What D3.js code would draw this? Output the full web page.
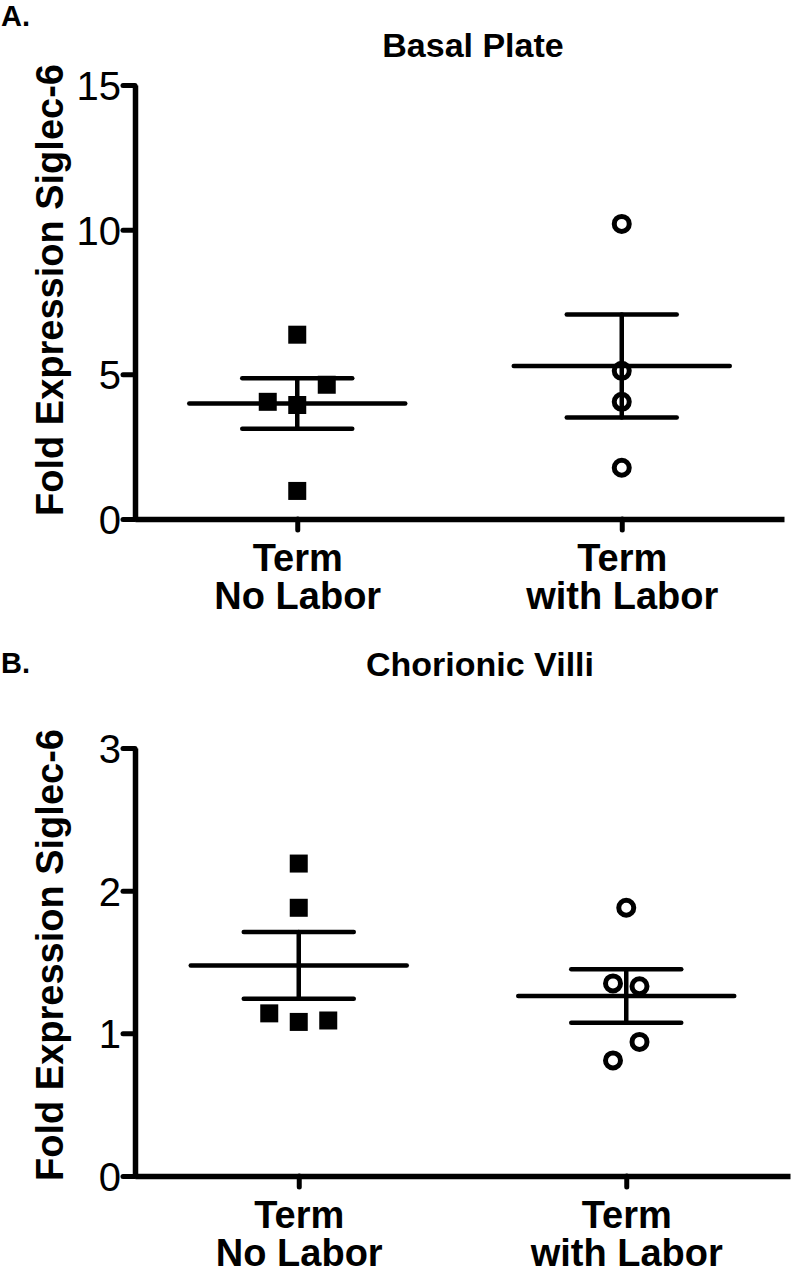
<!DOCTYPE html>
<html>
<head>
<meta charset="utf-8">
<script src="https://cdn.jsdelivr.net/npm/d3@7"></script>
<style>
  html, body { margin: 0; padding: 0; background: #fff; }
  svg { display: block; }
  text { font-family: "Liberation Sans", Arial, Helvetica, sans-serif; fill: #000; }
</style>
</head>
<body>
<svg id="chart" width="792" height="1279"></svg>
<script>
// ---- data ----
const categories = ["Term|No Labor", "Term|with Labor"];
const basalNoLabor = [6.37, 4.05, 3.94, 4.64, 0.97];
const basalWithLabor = [10.2, 5.12, 4.05, 1.77];
const villiNoLabor = [2.19, 1.88, 1.14, 1.08, 1.09];
const villiWithLabor = [1.88, 1.35, 1.33, 0.81, 0.94];
const basalTicks = [0, 5, 10, 15];
const villiTicks = [0, 1, 2, 3];
const titles = ["Basal Plate", "Chorionic Villi"];
const letters = ["A.", "B."];
const yLabel = "Fold Expression Siglec-6";

// ---- layout ----
const svg = d3.select("#chart");
svg.append("rect").attr("width", 792).attr("height", 1279).attr("fill", "#fff");

const panels = [
  { title: titles[0], letter: letters[0], ticks: basalTicks, groups: [basalNoLabor, basalWithLabor],
    yTop: 85, yBot: 519, xRange: [135, 784], titleY: 57, letterY: 26, titleX: 473, labelY: 290 },
  { title: titles[1], letter: letters[1], ticks: villiTicks, groups: [villiNoLabor, villiWithLabor],
    yTop: 748, yBot: 1176, xRange: [135, 790], titleY: 676, letterY: 673, titleX: 480, labelY: 955 }
];

function rowOffsets(vals, y, spacing, thr) {
  const idx = d3.range(vals.length).sort((a, b) => vals[b] - vals[a]);
  const rows = []; let cur = null;
  idx.forEach(i => {
    if (cur && Math.abs(y(vals[i]) - y(vals[cur[0]])) < thr) cur.push(i);
    else { cur = [i]; rows.push(cur); }
  });
  const off = new Array(vals.length).fill(0);
  rows.forEach(r => { r.sort((a, b) => a - b); r.forEach((i, k) => off[i] = (k - (r.length - 1) / 2) * spacing); });
  return off;
}

panels.forEach(p => {
  const g = svg.append("g");
  const y = d3.scaleLinear().domain([0, d3.max(p.ticks)]).range([p.yBot, p.yTop]);
  const x = d3.scalePoint().domain(categories).range(p.xRange).padding(0.5);

  // panel letter
  g.append("text").attr("x", 1).attr("y", p.letterY).attr("font-size", 29).attr("font-weight", "bold").text(p.letter);
  // title
  g.append("text").attr("x", p.titleX).attr("y", p.titleY).attr("text-anchor", "middle")
    .attr("font-size", 34).attr("font-weight", "bold").text(p.title);
  // y label
  g.append("text").attr("transform", `translate(63,${p.labelY}) rotate(-90)`).attr("text-anchor", "middle")
    .attr("font-size", 38).attr("font-weight", "bold").text(yLabel);

  // y axis
  const ya = g.append("g").attr("transform", `translate(${p.xRange[0]},0)`)
    .call(d3.axisLeft(y).tickValues(p.ticks).tickSize(12).tickSizeOuter(0).tickPadding(2).tickFormat(d3.format("d")));
  ya.select(".domain").attr("stroke", "#000").attr("stroke-width", 5.5);
  ya.selectAll(".tick line").attr("stroke", "#000").attr("stroke-width", 5).attr("stroke-linecap", "round");
  ya.selectAll(".tick text").attr("font-size", 40).attr("font-family", null).attr("dy", "0.36em");

  // x axis
  const xa = g.append("g").attr("transform", `translate(0,${p.yBot})`)
    .call(d3.axisBottom(x).tickSize(11).tickSizeOuter(0).tickFormat(""));
  xa.select(".domain").attr("stroke", "#000").attr("stroke-width", 5.5);
  xa.selectAll(".tick line").attr("stroke", "#000").attr("stroke-width", 5).attr("stroke-linecap", "round");
  xa.selectAll(".tick").each(function (d) {
    const t = d3.select(this).append("text").attr("text-anchor", "middle")
      .attr("font-size", 38).attr("font-weight", "bold").attr("fill", "#000").attr("font-family", null);
    d.split("|").forEach((s, i) => t.append("tspan").attr("x", 0).attr("y", 52 + i * 38).text(s));
  });

  // groups
  p.groups.forEach((vals, gi) => {
    const cx = x(categories[gi]);
    const m = d3.mean(vals);
    const sem = d3.deviation(vals) / Math.sqrt(vals.length);
    const isSquare = gi === 0;
    const off = rowOffsets(vals, y, isSquare ? 29.5 : 26.5, 25);

    // points
    if (isSquare) {
      g.selectAll(null).data(vals).enter().append("rect")
        .attr("x", (d, i) => cx + off[i] - 9).attr("y", d => y(d) - 9)
        .attr("width", 18).attr("height", 18).attr("fill", "#000");
    } else {
      g.selectAll(null).data(vals).enter().append("circle")
        .attr("cx", (d, i) => cx + off[i]).attr("cy", d => y(d)).attr("r", 7.5)
        .attr("fill", "none").attr("stroke", "#000").attr("stroke-width", 5);
    }

    // mean & SEM
    const lines = [
      [cx - 108, y(m), cx + 108, y(m)],
      [cx - 55, y(m + sem), cx + 55, y(m + sem)],
      [cx - 55, y(m - sem), cx + 55, y(m - sem)],
      [cx, y(m + sem), cx, y(m - sem)]
    ];
    g.selectAll(null).data(lines).enter().append("line")
      .attr("x1", d => d[0]).attr("y1", d => d[1]).attr("x2", d => d[2]).attr("y2", d => d[3])
      .attr("stroke", "#000").attr("stroke-width", 4.5).attr("stroke-linecap", "round");
  });
});
</script>
</body>
</html>
